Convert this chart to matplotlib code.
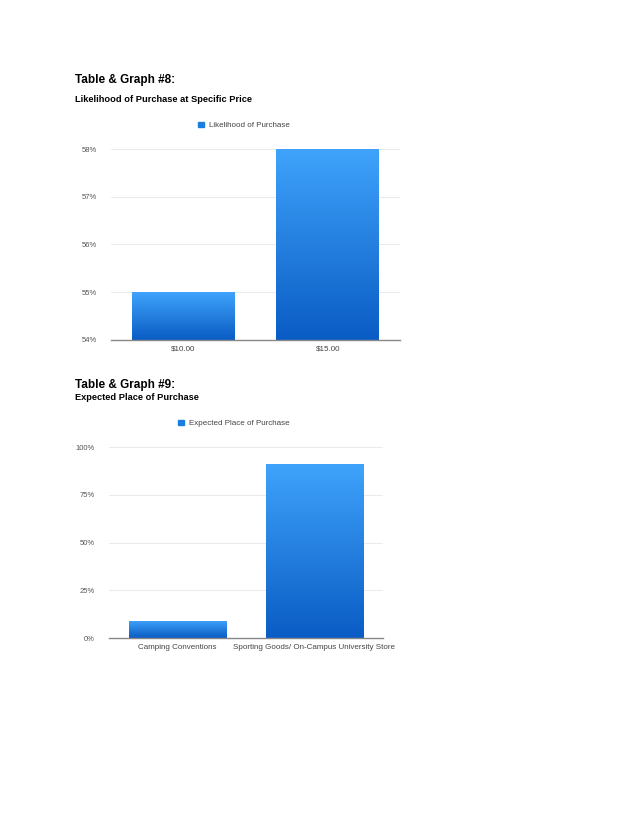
import numpy as np
import matplotlib.pyplot as plt
from matplotlib.colors import LinearSegmentedColormap
from matplotlib.ticker import FuncFormatter

plt.rcParams['font.family'] = ['Liberation Sans', 'DejaVu Sans']

# Graph #8 data
price_labels = ['$10.00', '$15.00']
likelihood = [55, 58]

# Graph #9 data
place_labels = ['Camping Conventions', 'Sporting Goods/ On-Campus University Store']
place_share = [9, 91]

blue_cmap = LinearSegmentedColormap.from_list('bars', ['#0a5cc4', '#3fa3fb'])


def gradient_bars(ax, labels, values, bottom, legend_label, legend_x):
    x = np.arange(len(labels))
    bars = ax.bar(x, np.array(values) - bottom, bottom=bottom, width=0.71,
                  color='#1a7ee0', zorder=2)
    grad = np.linspace(0, 1, 256).reshape(-1, 1)
    for b in bars:
        x0, y0 = b.get_x(), b.get_y()
        w, h = b.get_width(), b.get_height()
        im = ax.imshow(grad, extent=[x0, x0 + w, y0, y0 + h], origin='lower',
                       aspect='auto', cmap=blue_cmap, zorder=3)
        im.set_clip_path(b)
    ax.set_xlim(-0.5, len(labels) - 0.5)
    ax.set_xticks(x)
    ax.set_xticklabels(labels, fontsize=5.8, color='#444444')
    ax.tick_params(axis='both', length=0, pad=4)
    ax.tick_params(axis='y', labelsize=5.5, labelcolor='#555555', pad=10)
    ax.yaxis.set_major_formatter(FuncFormatter(lambda v, p: '%d%%' % v))
    ax.grid(axis='y', color='#e6e6e6', lw=0.6, zorder=0)
    for s in ['top', 'right', 'left']:
        ax.spines[s].set_visible(False)
    ax.spines['bottom'].set_color('#888888')
    ax.spines['bottom'].set_linewidth(1.0)
    ax.spines['bottom'].set_zorder(4)
    ax.set_axisbelow(True)
    # legend marker above the plot
    ax.legend([plt.Rectangle((0, 0), 1, 1, color='#1a7ee0')], [legend_label],
              loc='lower center', bbox_to_anchor=(legend_x, 1.065), frameon=False,
              fontsize=5.8, handlelength=0.7, handleheight=0.7,
              handletextpad=0.6, labelcolor='#444444')


fig = plt.figure(figsize=(6.38, 8.26), dpi=100)

ax1 = fig.add_axes([0.174, 0.5884, 0.453, 0.2312])
gradient_bars(ax1, price_labels, likelihood, 54, 'Likelihood of Purchase', 0.46)
ax1.set_ylim(54, 58)
ax1.set_yticks([54, 55, 56, 57, 58])

ax2 = fig.add_axes([0.1708, 0.2276, 0.4295, 0.2312])
gradient_bars(ax2, place_labels, place_share, 0, 'Expected Place of Purchase', 0.455)
ax2.set_ylim(0, 100)
ax2.set_yticks([0, 25, 50, 75, 100])

fig.text(75 / 638, 1 - 80 / 826, 'Table & Graph #8:', fontsize=8.5,
         fontweight='bold', va='center')
fig.text(75 / 638, 1 - 100 / 826, 'Likelihood of Purchase at Specific Price',
         fontsize=6.7, fontweight='bold', va='center')
fig.text(75 / 638, 1 - 385 / 826, 'Table & Graph #9:', fontsize=8.5,
         fontweight='bold', va='center')
fig.text(75 / 638, 1 - 397 / 826, 'Expected Place of Purchase',
         fontsize=6.7, fontweight='bold', va='center')

fig.savefig('out.png', dpi=100)
